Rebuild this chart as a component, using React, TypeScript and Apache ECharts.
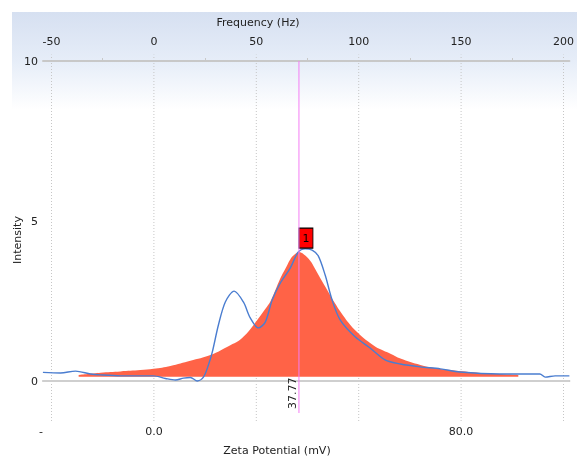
import React, { useEffect, useRef } from "react";
import * as echarts from "echarts";

// Zeta potential (mV) vs intensity — measured (blue) and fitted peak (red)
const blueZeta = [-28.9, -24.3, -20.4, -16.5, -13.9, -8.7, -3.5, -0.1, 3.0, 5.6, 7.7, 9.5, 11.3, 12.9, 14.2, 15.2, 16.8, 18.6, 20.9, 23.3, 25.1, 27.2, 29.0, 30.8, 32.9, 35.5, 37.6, 39.4, 41.2, 42.8, 44.6, 46.4, 48.5, 52.4, 56.3, 60.2, 64.2, 69.4, 74.6, 79.7, 90.1, 100.5, 101.9, 104.5, 108.2];
const blueIntensity = [0.27, 0.25, 0.31, 0.22, 0.19, 0.16, 0.16, 0.16, 0.08, 0.03, 0.09, 0.11, 0.0, 0.12, 0.5, 0.9, 1.75, 2.47, 2.81, 2.47, 1.97, 1.66, 1.84, 2.53, 3.06, 3.53, 4.03, 4.13, 4.09, 3.91, 3.31, 2.53, 1.91, 1.38, 1.03, 0.66, 0.53, 0.44, 0.38, 0.28, 0.22, 0.22, 0.12, 0.16, 0.16];

const redZeta = [-19.6, -13.9, -8.7, -3.5, -0.1, 4.3, 9.5, 14.7, 19.9, 22.0, 23.3, 25.0, 27.2, 29.0, 30.4, 32.9, 34.3, 35.5, 36.7, 37.77, 39.0, 40.7, 42.0, 43.3, 44.6, 45.9, 47.2, 48.5, 51.1, 53.7, 55.7, 57.7, 59.7, 61.6, 64.2, 69.4, 73.0, 77.2, 85.0, 94.9];
const redIntensity = [0.19, 0.26, 0.3, 0.34, 0.38, 0.47, 0.63, 0.81, 1.12, 1.25, 1.38, 1.6, 1.95, 2.25, 2.5, 3.2, 3.52, 3.8, 3.96, 4.03, 3.96, 3.76, 3.5, 3.22, 2.95, 2.68, 2.42, 2.18, 1.76, 1.44, 1.24, 1.07, 0.95, 0.85, 0.7, 0.5, 0.41, 0.34, 0.25, 0.19];
const redBaseline = 0.13;

const peakZeta = 37.77;
const peakIntensity = 4.03;
const peakLabel = "1";

const frequencyTicks = [-50, 0, 50, 100, 150, 200];
const frequencyMinorTicks = [-25, 25, 75, 125, 175];
const zetaTicks = [0, 80];
const intensityTicks = [0, 5, 10];
const hzPerMv = 1.875;

const zetaMin = -28.88;
const zetaMax = 108.2;
const intensityMin = -1;
const intensityMax = 10;

const FONT = "DejaVu Sans";
const TEXT = "#222";

export default function App() {
  const ref = useRef<HTMLDivElement>(null);
  useEffect(() => {
    if (!ref.current) return;
    const chart = echarts.init(ref.current, null, { renderer: "svg" });

    const gridSeries = frequencyTicks.map((hz) => ({
      type: "line",
      silent: true,
      clip: false,
      symbol: "none",
      z: 1,
      lineStyle: { type: [1, 2], color: "#c6c6c6", width: 1 },
      data: [
        [hz / hzPerMv, intensityMin - 0.25],
        [hz / hzPerMv, intensityMax + 0.2],
      ],
    }));

    const graphic: any[] = [
      {
        type: "rect",
        silent: true,
        z: -10,
        shape: { x: 12, y: 12, width: 565, height: 445 },
        style: {
          fill: new echarts.graphic.LinearGradient(0, 0, 0, 1, [
            { offset: 0, color: "#d6e0f1" },
            { offset: 0.11, color: "#e6edf8" },
            { offset: 0.22, color: "#ffffff" },
            { offset: 1, color: "#ffffff" },
          ]),
        },
      },
      {
        type: "text",
        x: 258,
        y: 22,
        style: { text: "Frequency (Hz)", font: `11px '${FONT}'`, fill: TEXT, align: "center", verticalAlign: "middle" },
      },
      {
        type: "text",
        x: 277,
        y: 450,
        style: { text: "Zeta Potential (mV)", font: `11px '${FONT}'`, fill: TEXT, align: "center", verticalAlign: "middle" },
      },
      {
        type: "text",
        x: 17,
        y: 240,
        rotation: Math.PI / 2,
        style: { text: "Intensity", font: `11px '${FONT}'`, fill: TEXT, align: "center", verticalAlign: "middle" },
      },
      {
        type: "text",
        x: 41,
        y: 431,
        style: { text: "-", font: `11px '${FONT}'`, fill: TEXT, align: "center", verticalAlign: "middle" },
      },
    ];

    const option: any = {
      animation: false,
      graphic,
      grid: { left: 43, right: 7, top: 61, bottom: 44 },
      xAxis: [
        {
          type: "value",
          position: "bottom",
          min: zetaMin,
          max: zetaMax,
          axisLine: { show: true, lineStyle: { color: "#c8c8c8", width: 2 } },
          axisTick: { show: false },
          splitLine: { show: false },
          axisLabel: {
            customValues: zetaTicks,
            formatter: (v: number) => v.toFixed(1),
            color: TEXT,
            fontFamily: FONT,
            fontSize: 11,
            margin: 13,
          },
        },
        {
          type: "value",
          position: "top",
          min: zetaMin * hzPerMv,
          max: zetaMax * hzPerMv,
          axisLine: { show: true, lineStyle: { color: "#c8c8c8", width: 2 } },
          axisTick: {
            show: true,
            customValues: frequencyMinorTicks,
            length: 3,
            lineStyle: { color: "#c8c8c8" },
          },
          splitLine: { show: false },
          axisLabel: {
            customValues: frequencyTicks,
            color: TEXT,
            fontFamily: FONT,
            fontSize: 11,
            margin: 14,
          },
        },
      ],
      yAxis: {
        type: "value",
        min: intensityMin,
        max: intensityMax,
        axisLine: { show: false },
        splitLine: { show: false },
        axisTick: { show: true, customValues: [0, 10], length: 3, lineStyle: { color: "#c8c8c8", width: 2 } },
        axisLabel: { customValues: intensityTicks, color: TEXT, fontFamily: FONT, fontSize: 11, margin: 5 },
      },
      series: [
        ...gridSeries,
        {
          type: "line",
          silent: true,
          symbol: "none",
          z: 1,
          lineStyle: { type: "solid", color: "#cfcfcf", width: 2 },
          data: [
            [zetaMin, 0],
            [zetaMax, 0],
          ],
        },
        {
          type: "line",
          name: "Fit",
          data: redZeta.map((x, i) => [x, redIntensity[i]]),
          smooth: 0.4,
          showSymbol: false,
          symbol: "none",
          lineStyle: { width: 0 },
          itemStyle: { color: "#ff6347" },
          areaStyle: { color: "#ff6347", opacity: 1, origin: redBaseline },
          z: 3,
        },
        {
          type: "line",
          name: "Measured",
          data: blueZeta.map((x, i) => [x, blueIntensity[i]]),
          smooth: 0.3,
          showSymbol: false,
          symbol: "none",
          lineStyle: { width: 1.4, color: "#4a7dd0" },
          itemStyle: { color: "#4a7dd0" },
          z: 4,
        },
        {
          type: "line",
          name: "Peak",
          silent: true,
          symbol: "none",
          z: 5,
          lineStyle: { type: "solid", color: "#f47ef4", width: 1 },
          data: [
            [peakZeta, intensityMin],
            [peakZeta, intensityMax],
          ],
          markPoint: {
            silent: true,
            symbol: "rect",
            symbolSize: [14, 20],
            symbolOffset: [7, -14],
            itemStyle: { color: "#ff0000", borderColor: "#000", borderWidth: 1 },
            label: { show: true, formatter: peakLabel, color: "#000", fontFamily: FONT, fontSize: 11, position: "inside" },
            data: [{ coord: [peakZeta, peakIntensity] }],
          },
        },
      ],
    };
    chart.setOption(option);

    const p = chart.convertToPixel({ xAxisIndex: 0, yAxisIndex: 0 }, [peakZeta, intensityMin]) as number[];
    graphic.push({
      type: "text",
      x: p[0] - 1,
      y: p[1] - 4,
      rotation: Math.PI / 2,
      z: 10,
      style: {
        text: peakZeta.toFixed(2),
        font: `11px '${FONT}'`,
        fill: TEXT,
        align: "left",
        verticalAlign: "bottom",
      },
    });
    chart.setOption({ graphic });
    return () => chart.dispose();
  }, []);
  return <div ref={ref} style={{ position: "fixed", left: 0, top: 0, width: 577, height: 457 }} />;
}
